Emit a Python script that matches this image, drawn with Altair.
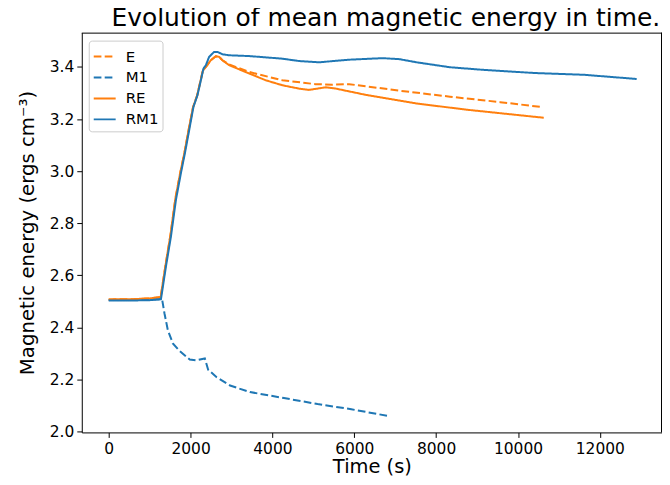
import altair as alt
import pandas as pd

# ---- data ----
E_t = [0, 600, 1000, 1270, 1390, 1510, 1630, 1750, 1850, 1955, 2060, 2160, 2240, 2300,
       2374, 2495, 2617, 2698, 2778, 2942, 3433, 4240, 5054, 5466, 5878, 7109, 8337, 9565, 10533]
E_v = [2.507, 2.508, 2.511, 2.516, 2.64, 2.755, 2.895, 2.995, 3.07, 3.16, 3.245, 3.29, 3.345, 3.386,
       3.400, 3.426, 3.441, 3.439, 3.426, 3.410, 3.381, 3.349, 3.334, 3.332, 3.334, 3.309, 3.286, 3.265, 3.247]

M1_t = [0, 600, 1000, 1304, 1362, 1445, 1567, 1733, 1979, 2145, 2349, 2430, 2637, 2966,
        3453, 4282, 5103, 5927, 6800]
M1_v = [2.505, 2.505, 2.506, 2.508, 2.454, 2.389, 2.338, 2.309, 2.276, 2.273, 2.280, 2.237, 2.208, 2.176,
        2.151, 2.128, 2.105, 2.085, 2.060]

RE_t = [0, 600, 1000, 1270, 1390, 1510, 1630, 1750, 1850, 1955, 2060, 2160, 2240, 2300,
        2374, 2495, 2617, 2698, 2778, 2942, 3433, 3836, 4240, 4647, 4891, 5306, 5549, 6280, 7516, 8742, 10630]
RE_v = [2.507, 2.508, 2.511, 2.516, 2.64, 2.755, 2.895, 2.995, 3.07, 3.16, 3.245, 3.29, 3.345, 3.386,
        3.400, 3.426, 3.441, 3.439, 3.426, 3.407, 3.375, 3.349, 3.330, 3.317, 3.312, 3.322, 3.317, 3.293, 3.260, 3.236, 3.205]

RM1_t = [0, 600, 1000, 1277, 1399, 1521, 1643, 1764, 1862, 1967, 2071, 2169, 2252, 2315, 2374, 2454,
         2576, 2656, 2778, 2942, 3433, 4240, 4647, 5135, 5866, 6694, 7109, 7523, 8340, 9156, 10392, 11617, 12900]
RM1_v = [2.503, 2.503, 2.504, 2.508, 2.634, 2.749, 2.890, 2.992, 3.069, 3.158, 3.247, 3.292, 3.349, 3.394, 3.407, 3.439,
         3.458, 3.458, 3.449, 3.445, 3.442, 3.432, 3.423, 3.418, 3.428, 3.434, 3.430, 3.418, 3.399, 3.389, 3.377, 3.370, 3.354]

series_names = ["E", "M1", "RE", "RM1"]
series_colors = ["#ff7f0e", "#1f77b4", "#ff7f0e", "#1f77b4"]
series_dashes = [[7.7, 3.3], [7.7, 3.3], [1, 0], [1, 0]]

x_ticks = [0, 2000, 4000, 6000, 8000, 10000, 12000]
y_ticks = [2.0, 2.2, 2.4, 2.6, 2.8, 3.0, 3.2, 3.4]

W, H = 582, 401

frames = []
for name, t, v in [("E", E_t, E_v), ("M1", M1_t, M1_v), ("RE", RE_t, RE_v), ("RM1", RM1_t, RM1_v)]:
    frames.append(pd.DataFrame({"series": name, "t": t, "v": v}))
df = pd.concat(frames, ignore_index=True)

x_enc = alt.X("t:Q", scale=alt.Scale(domain=[-658, 13519], nice=False, zero=False),
              axis=alt.Axis(title="Time (s)", values=x_ticks, format="d", titlePadding=1,
                            labelPadding=4, titleFontSize=19.5))
y_enc = alt.Y("v:Q", scale=alt.Scale(domain=[1.996, 3.532], nice=False, zero=False),
              axis=alt.Axis(title="Magnetic energy (ergs cm⁻³)", values=y_ticks, format=".1f",
                            titlePadding=12))
color_enc = alt.Color("series:N", scale=alt.Scale(domain=series_names, range=series_colors),
                      legend=alt.Legend(title=None, orient="none", legendX=7, legendY=8,
                                        symbolType="stroke", symbolSize=484, symbolStrokeWidth=2,
                                        labelFontSize=15, labelOffset=9, padding=4, rowPadding=1,
                                        fillColor="white", strokeColor="#cccccc", cornerRadius=3))
dash_enc = alt.StrokeDash("series:N", scale=alt.Scale(domain=series_names, range=series_dashes), legend=None)

layers = []
for name in series_names:
    layers.append(
        alt.Chart(df).transform_filter(alt.datum.series == name)
        .mark_line(strokeWidth=2)
        .encode(x=x_enc, y=y_enc, color=color_enc, strokeDash=dash_enc, order="t:Q")
    )

frame_src = pd.DataFrame({"k": [0]})
top_rule = alt.Chart(frame_src).mark_rule(color="black", strokeWidth=1).encode(
    x=alt.value(0), x2=alt.value(W), y=alt.value(0.5))
right_rule = alt.Chart(frame_src).mark_rule(color="black", strokeWidth=1).encode(
    x=alt.value(W - 0.5), y=alt.value(0), y2=alt.value(H))

chart = alt.layer(*layers, top_rule, right_rule).properties(
    width=W, height=H,
    title=alt.TitleParams("Evolution of mean magnetic energy in time.", fontSize=25,
                          fontWeight="normal", anchor="middle", offset=1, dx=14, color="black"),
    autosize=alt.AutoSizeParams(type="none"),
    padding={"left": 74, "top": 24, "right": 0, "bottom": 44},
).configure(font="DejaVu Sans").configure_view(
    strokeWidth=0
).configure_axis(
    grid=False, domainColor="black", tickColor="black", labelColor="black", titleColor="black",
    labelFontSize=15.5, titleFontSize=19.8, titleFontWeight="normal", tickSize=5,
    labelPadding=3, titlePadding=4, domainWidth=1, tickWidth=1
).configure_legend(labelColor="black")

chart.save("out.html", embed_options={"renderer": "svg", "actions": False})
